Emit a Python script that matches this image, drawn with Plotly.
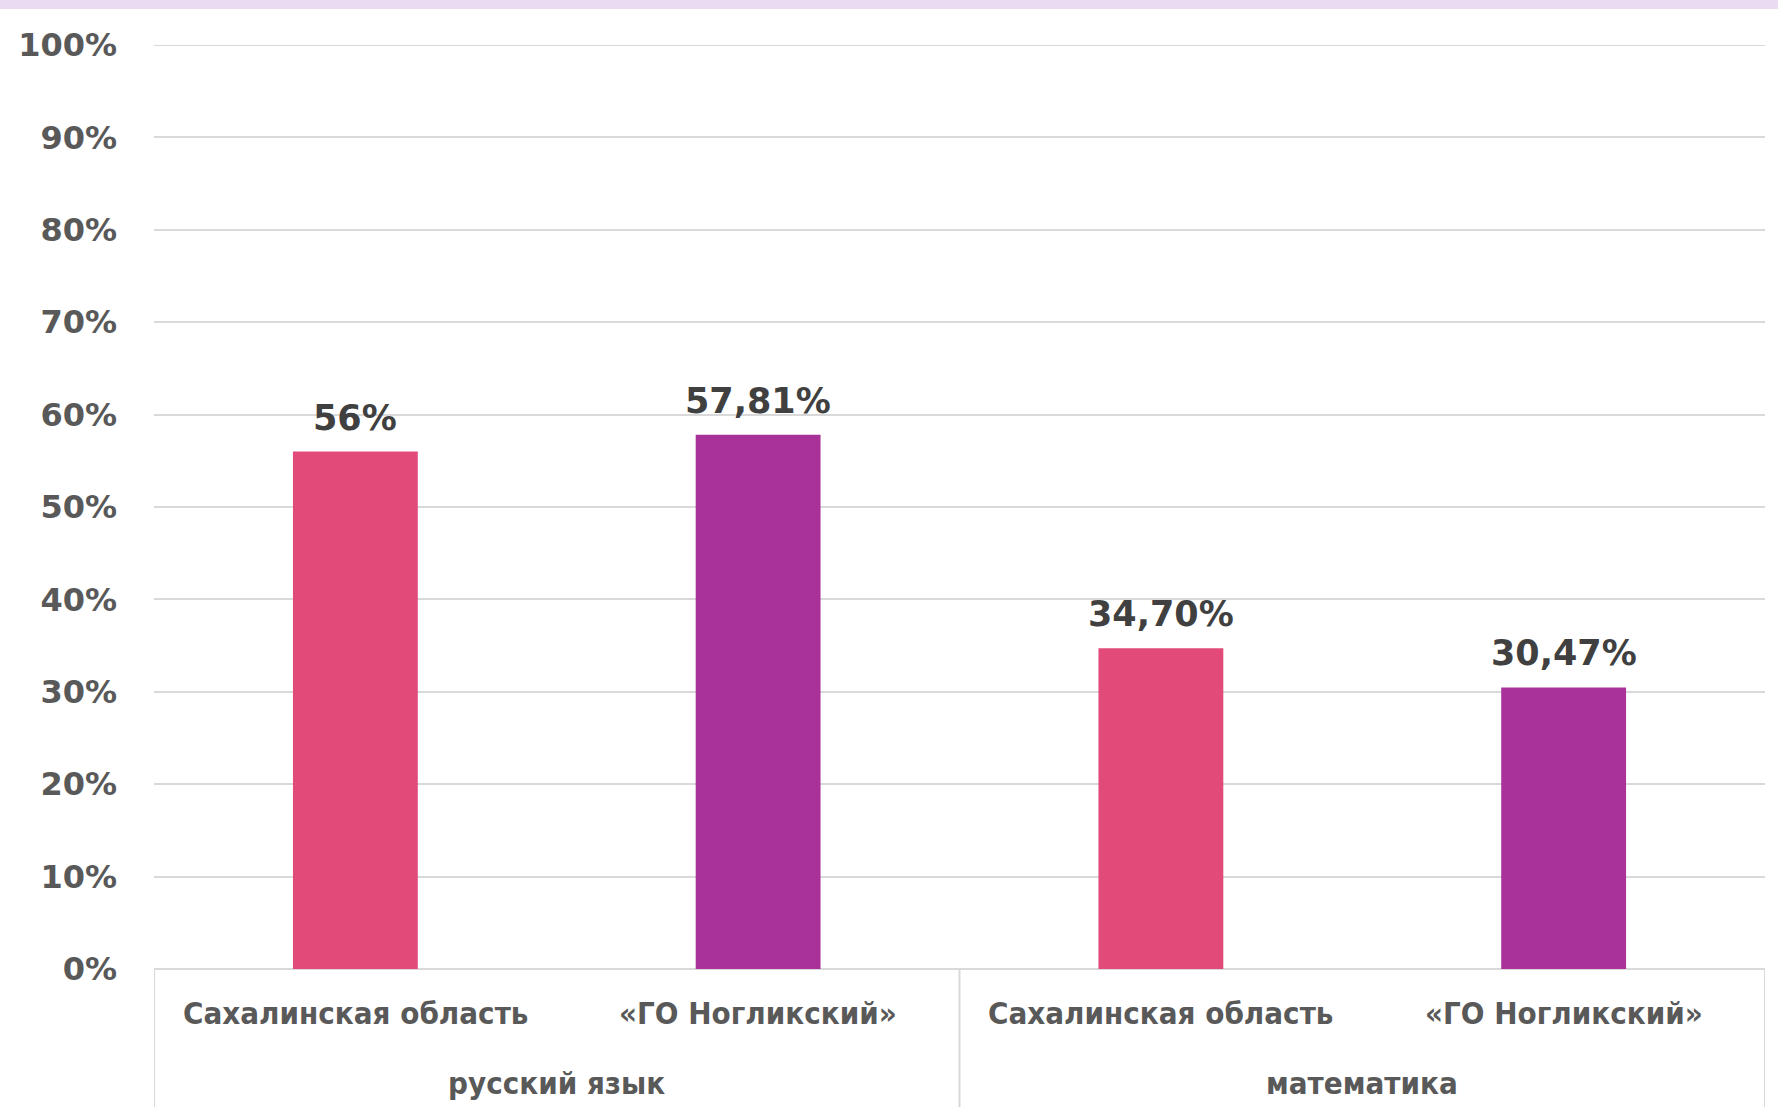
import plotly.graph_objects as go

# ---- data ----
subjects = ["русский язык", "математика"]
regions = ["Сахалинская область", "«ГО Ногликский»", "Сахалинская область", "«ГО Ногликский»"]
values = [56.0, 57.81, 34.70, 30.47]
value_labels = ["56%", "57,81%", "34,70%", "30,47%"]
y_ticks = [0, 10, 20, 30, 40, 50, 60, 70, 80, 90, 100]
y_ticktext = ["0%", "10%", "20%", "30%", "40%", "50%", "60%", "70%", "80%", "90%", "100%"]

PINK = "#e24a7a"
PURPLE = "#a93299"
colors = [PINK, PURPLE, PINK, PURPLE]

W, H = 1778, 1117
ML, MR, MT, MB = 154, 13, 45, 148
PH = H - MT - MB
PW = W - ML - MR

xs = list(range(len(values)))

fig = go.Figure()
fig.add_trace(go.Bar(
    x=xs, y=values,
    marker=dict(color=colors, line=dict(width=0)),
    width=0.31,
    hoverinfo="skip",
))

label_font = dict(family="Liberation Sans Narrow, DejaVu Sans Condensed, sans-serif",
                  size=31, color="#595959")

annotations = []
# value labels
for i, (v, t) in enumerate(zip(values, value_labels)):
    annotations.append(dict(x=xs[i], y=v, xref="x", yref="y", yshift=34,
                            text="<b>%s</b>" % t, showarrow=False,
                            font=dict(family="DejaVu Sans", size=35, color="#404040"),
                            xanchor="center", yanchor="middle"))
# inner category labels
for i, r in enumerate(regions):
    annotations.append(dict(x=xs[i], y=0, xref="x", yref="paper", yshift=-44,
                            text="<b>%s</b>" % r, showarrow=False, font=label_font,
                            xanchor="center", yanchor="middle"))
# outer subject labels
for j, s in enumerate(subjects):
    annotations.append(dict(x=2 * j + 0.5, y=0, xref="x", yref="paper", yshift=-114,
                            text="<b>%s</b>" % s, showarrow=False, font=label_font,
                            xanchor="center", yanchor="middle"))

shapes = []
# top gridline (100%)
shapes.append(dict(type="line", xref="paper", yref="y", x0=0, x1=1, y0=100, y1=100,
                   line=dict(color="#d9d9d9", width=2), layer="below"))
# group dividers
for xd in [-0.5, 1.5, 3.5]:
    shapes.append(dict(type="line", xref="x", yref="paper", x0=xd, x1=xd,
                       y0=0, y1=-(1107 - 969) / PH,
                       line=dict(color="#d9d9d9", width=2)))
# top decorative strip
shapes.append(dict(type="rect", xref="paper", yref="paper",
                   x0=-ML / PW, x1=1 + MR / PW,
                   y0=1 + (MT - 9) / PH, y1=1 + MT / PH,
                   fillcolor="#eadbf3", line=dict(width=0), layer="below"))

fig.update_layout(
    width=W, height=H,
    margin=dict(l=ML, r=MR, t=MT, b=MB),
    paper_bgcolor="white", plot_bgcolor="white",
    showlegend=False,
    xaxis=dict(range=[-0.5, 3.5], showticklabels=False, showgrid=False,
               zeroline=False, showline=False, ticks="", fixedrange=True),
    yaxis=dict(range=[0, 100], tickvals=y_ticks,
               ticktext=["<b>%s</b>" % t for t in y_ticktext],
               tickfont=dict(family="DejaVu Sans", size=32, color="#595959"),
               showgrid=True, gridcolor="#d9d9d9", gridwidth=2,
               zeroline=True, zerolinecolor="#d9d9d9", zerolinewidth=2,
               showline=False, ticks="", ticklabelstandoff=36, fixedrange=True),
    annotations=annotations,
    shapes=shapes,
)

fig.write_html("out.html", config={"displayModeBar": False},
               post_script="document.body.style.margin='0';document.body.style.overflow='hidden';")
